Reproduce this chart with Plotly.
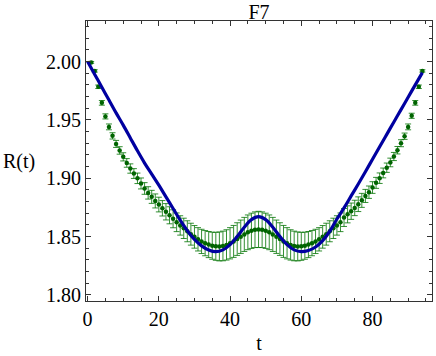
import plotly.graph_objects as go

# green data points (t = 1..94) with half-widths of the error bars
t_data = list(range(1, 95))
r_data = [
	1.9993, 1.9920, 1.9784, 1.9646, 1.9530, 1.9440, 1.9363, 1.9294, 1.9238, 1.9183,
	1.9131, 1.9083, 1.9040, 1.8999, 1.8955, 1.8912, 1.8874, 1.8840, 1.8805, 1.8774,
	1.8742, 1.8712, 1.8682, 1.8652, 1.8622, 1.8595, 1.8570, 1.8545, 1.8520, 1.8497,
	1.8476, 1.8458, 1.8443, 1.8431, 1.8421, 1.8416, 1.8415, 1.8419, 1.8428, 1.8442,
	1.8458, 1.8478, 1.8498, 1.8518, 1.8536, 1.8549, 1.8558, 1.8561, 1.8558, 1.8549,
	1.8536, 1.8518, 1.8498, 1.8478, 1.8458, 1.8442, 1.8428, 1.8419, 1.8415, 1.8416,
	1.8421, 1.8431, 1.8443, 1.8458, 1.8476, 1.8497, 1.8520, 1.8545, 1.8570, 1.8595,
	1.8622, 1.8663, 1.8690, 1.8717, 1.8745, 1.8777, 1.8810, 1.8848, 1.8880, 1.8920,
	1.8960, 1.9000, 1.9045, 1.9090, 1.9135, 1.9186, 1.9240, 1.9300, 1.9360, 1.9440,
	1.9535, 1.9646, 1.9784, 1.9920,
]
r_err = [
	0.0008, 0.0010, 0.0015, 0.0020, 0.0022, 0.0025, 0.0027, 0.0030, 0.0032, 0.0035,
	0.0037, 0.0040, 0.0042, 0.0045, 0.0047, 0.0050, 0.0053, 0.0056, 0.0060, 0.0063,
	0.0066, 0.0070, 0.0073, 0.0077, 0.0080, 0.0083, 0.0087, 0.0090, 0.0094, 0.0097,
	0.0100, 0.0104, 0.0108, 0.0112, 0.0116, 0.0120, 0.0124, 0.0127, 0.0130, 0.0134,
	0.0137, 0.0140, 0.0143, 0.0146, 0.0149, 0.0151, 0.0153, 0.0155, 0.0153, 0.0151,
	0.0149, 0.0146, 0.0143, 0.0140, 0.0137, 0.0134, 0.0130, 0.0127, 0.0124, 0.0120,
	0.0116, 0.0112, 0.0108, 0.0104, 0.0100, 0.0097, 0.0094, 0.0090, 0.0087, 0.0083,
	0.0080, 0.0077, 0.0073, 0.0070, 0.0066, 0.0063, 0.0060, 0.0056, 0.0053, 0.0050,
	0.0047, 0.0045, 0.0042, 0.0040, 0.0037, 0.0035, 0.0032, 0.0030, 0.0027, 0.0025,
	0.0022, 0.0020, 0.0015, 0.0010,
]

# blue curve
t_fit = list(range(0, 95, 2))
r_fit = [
	2.0000, 1.9890, 1.9780, 1.9670, 1.9560, 1.9455, 1.9345, 1.9235, 1.9130, 1.9035,
	1.8940, 1.8840, 1.8740, 1.8640, 1.8550, 1.8475, 1.8420, 1.8385, 1.8370, 1.8385,
	1.8430, 1.8500, 1.8580, 1.8645, 1.8670, 1.8645, 1.8580, 1.8500, 1.8430, 1.8385,
	1.8370, 1.8380, 1.8410, 1.8465, 1.8545, 1.8650, 1.8745, 1.8848, 1.8950, 1.9055,
	1.9163, 1.9270, 1.9376, 1.9482, 1.9588, 1.9694, 1.9800, 1.9905,
]

x_ticks = [0, 20, 40, 60, 80]
y_ticks = [1.80, 1.85, 1.90, 1.95, 2.00]

fnt = "Liberation Serif, Times New Roman, serif"
fsize = 20

fig = go.Figure()

fig.add_trace(go.Scatter(
	x = t_data, y = r_data, mode = "markers",
	marker = dict(color = "#006400", size = 4.5),
	error_y = dict(type = "data", array = r_err, visible = True,
		color = "rgba(0,115,0,0.8)", thickness = 1, width = 3),
	showlegend = False,
))

fig.add_trace(go.Scatter(
	x = t_fit, y = r_fit, mode = "lines",
	line = dict(color = "#0000a0", width = 3.2, shape = "spline"),
	showlegend = False,
))

axis_common = dict(
	showline = True, linecolor = "#333333", linewidth = 1, mirror = "ticks",
	ticks = "inside", ticklen = 5, tickcolor = "#333333", tickwidth = 1,
	showgrid = False, zeroline = False, automargin = False,
	tickfont = dict(family = fnt, size = fsize, color = "black"),
)

fig.update_layout(
	width = 436, height = 356,
	paper_bgcolor = "white", plot_bgcolor = "white",
	margin = dict(l=86, r=4, t=21, b=55),
	title = dict(text = "F7", x = 0.5, xref = "paper", y = 0.966, yanchor = "middle",
		font = dict(family = fnt, size = fsize, color = "black")),
	xaxis = dict(
		range = [-0.45, 96.7], tickvals = x_ticks,
		minor = dict(ticks = "inside", dtick = 5, ticklen = 3, tickcolor = "#333333"),
		title = dict(text = "t", font = dict(family = fnt, size = fsize, color = "black"), standoff = 6),
		**axis_common,
	),
	yaxis = dict(
		range = [1.7947, 2.0348], tickvals = y_ticks, tickformat = ".2f",
		minor = dict(ticks = "inside", dtick = 0.01, ticklen = 3, tickcolor = "#333333"),
		**axis_common,
	),
	font = dict(family = fnt, size = fsize, color = "black"),
)

fig.add_annotation(
	text = "R(t)", xref = "paper", yref = "paper", x = -0.245, y = 0.5,
	xanchor = "left", yanchor = "middle", showarrow = False,
	font = dict(family = fnt, size = fsize, color = "black"),
)

# page body has a default 8px margin; drop it so the figure sits at the window corner
fig.write_html("out.html", config = {"displayModeBar": False},
	post_script = "document.body.style.margin='0';")
